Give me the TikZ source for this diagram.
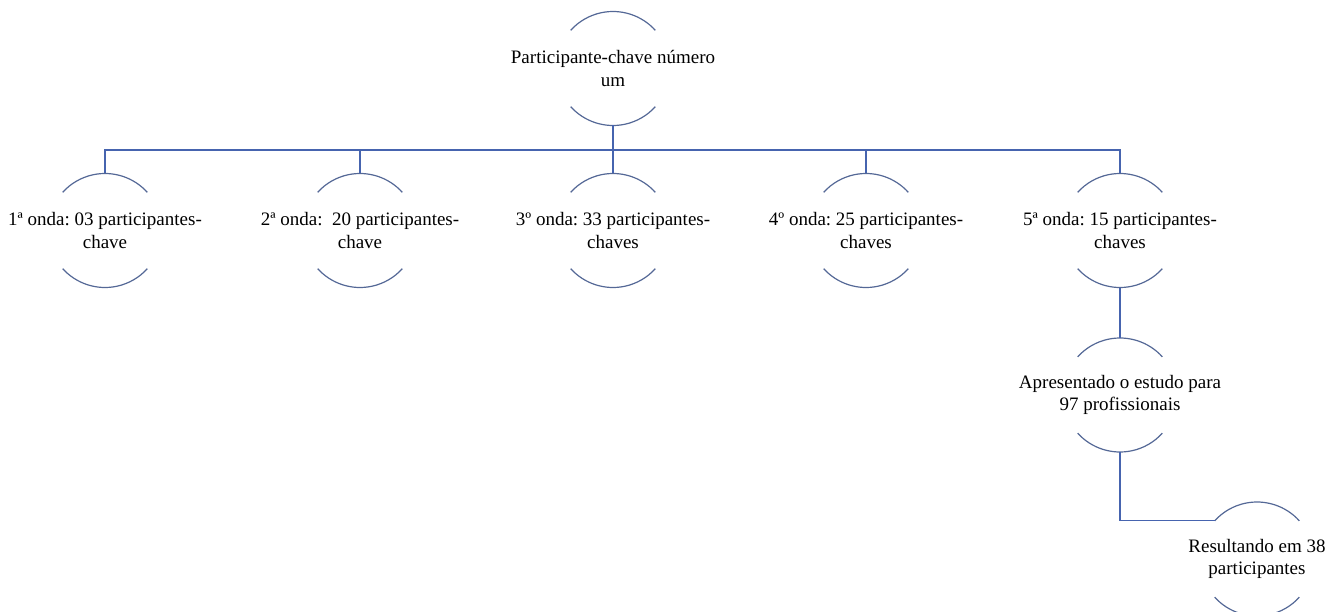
\documentclass[tikz,border=0pt]{standalone}
\usepackage{fontspec}
\setmainfont{Liberation Serif}
\frenchspacing
\definecolor{arcoazul}{RGB}{84,104,150}
\definecolor{linhaazul}{RGB}{70,100,175}

\begin{document}
\begin{tikzpicture}[x=1pt,y=1pt]
  \tikzstyle{etapa}=[inner sep=0pt,outer sep=0pt,
    align=center,font=\fontsize{19}{22.5}\selectfont]
  \tikzstyle{arco}=[draw=arcoazul,line width=1.2pt]
  \tikzstyle{linha}=[draw=linhaazul,line width=1.2pt]
  \useasboundingbox (0,0) rectangle (1340,-612);

  \node[etapa] (top) at (613,-68.5) {Participante-chave número\\um};

  \node[etapa] (w1) at (105,-230.5) {1ª onda: 03 participantes-\\chave};
  \node[etapa] (w2) at (360,-230.5) {2ª onda:\ \ 20 participantes-\\chave};
  \node[etapa] (w3) at (613,-230.5) {3º onda: 33 participantes-\\chaves};
  \node[etapa] (w4) at (866,-230.5) {4º onda: 25 participantes-\\chaves};
  \node[etapa] (w5) at (1120,-230.5) {5ª onda: 15 participantes-\\chaves};

  \node[etapa] (ap) at (1120,-395) {Apresentado o estudo para\\97 profissionais};
  \node[etapa] (res) at (1257,-559) {Resultando em 38\\participantes};

  % arcos de cima e de baixo, e pontos de ligacao
  \foreach \n in {top,w1,w2,w3,w4,w5,ap,res} {
    \draw[arco] (\n.center) ++(42:57) arc[start angle=42,end angle=138,radius=57];
    \draw[arco] (\n.center) ++(222:57) arc[start angle=222,end angle=318,radius=57];
    \path (\n.center) ++(0,57) coordinate (\n-n);
    \path (\n.center) ++(0,-57) coordinate (\n-s);
  }
  \path (res.center) ++(138:57) coordinate (res-e);

  % ligacoes
  \foreach \n in {w1,w2,w3,w4,w5}
    \draw[linha] (top-s) -- ++(0,-24.5) -| (\n-n);
  \draw[linha] (w5-s) -- (ap-n);
  \draw[linha] (ap-s) |- (res-e);

\end{tikzpicture}
\end{document}
